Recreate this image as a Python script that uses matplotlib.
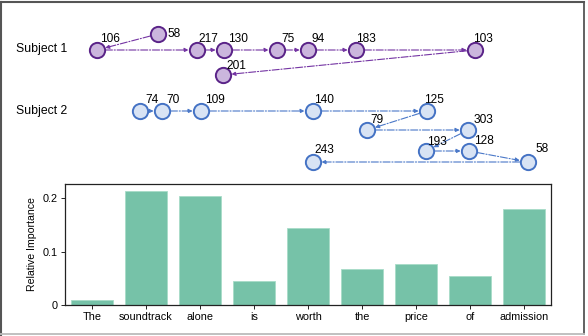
import matplotlib
matplotlib.use("Agg")
import matplotlib.pyplot as plt
from matplotlib.lines import Line2D

plt.rcParams['font.family'] = ['Liberation Sans', 'DejaVu Sans']

# --- datos de la parte superior (fijaciones, en orden) ---
s1_dur = [58, 106, 217, 130, 75, 94, 183, 103, 201]
s1_x = [158, 97, 197, 224, 277, 308, 356, 475, 223]
s1_y = [34, 50, 50, 50, 50, 50, 50, 50, 75]

s2_dur = [74, 70, 109, 140, 125, 79, 303, 193, 128, 58, 243]
s2_x = [140, 162, 201, 313, 427, 367, 468, 426, 469, 528, 313]
s2_y = [111, 111, 111, 111, 111, 130, 130, 151, 151, 162, 162]

# desplazamiento de las etiquetas (px)
s1_off = [(9, 3), (3, -8), (1, -8), (4, -8), (4, -8), (4, -8), (0, -8), (-2, -8), (3, -6)]
s2_off = [(5, -8), (4, -8), (4, -8), (1, -8), (-3, -8), (3, -7), (6, -7), (1, -6), (5, -7), (7, -10), (1, -9)]

# --- datos de barras ---
palabras = ['The', 'soundtrack', 'alone', 'is', 'worth', 'the', 'price', 'of', 'admission']
importancia = [0.009, 0.214, 0.204, 0.045, 0.144, 0.068, 0.076, 0.054, 0.180]

W, H = 588, 336
fig = plt.figure(figsize=(W / 100, H / 100), dpi=100)

# ejes en pixeles para el recorrido
ax = fig.add_axes([0, 0, 1, 1])
ax.set_xlim(0, W)
ax.set_ylim(H, 0)
ax.axis('off')


def recorrido(xs, ys, durs, offs, edge, fill, line):
    for i in range(len(xs) - 1):
        ax.annotate('', xy=(xs[i + 1], ys[i + 1]), xytext=(xs[i], ys[i]),
                    arrowprops=dict(arrowstyle='-|>,head_length=0.25,head_width=0.12',
                                    color=line, lw=0.8, linestyle='dashdot',
                                    shrinkA=6, shrinkB=6))
    ax.plot(xs, ys, 'o', ms=11, mfc=fill, mec=edge, mew=1.4, ls='none', zorder=3)
    for x, y, d, (dx, dy) in zip(xs, ys, durs, offs):
        ax.text(x + dx, y + dy, str(d), fontsize=8.6, ha='left', va='baseline', zorder=4)


recorrido(s1_x, s1_y, s1_dur, s1_off, '#5a2388', '#cbb6dd', '#7434a3')
recorrido(s2_x, s2_y, s2_dur, s2_off, '#4472c4', '#d8e3f4', '#4a78c8')

ax.text(16, 49, 'Subject 1', fontsize=8.8, va='center', ha='left')
ax.text(16, 111, 'Subject 2', fontsize=8.8, va='center', ha='left')

# grafica de barras
bx = fig.add_axes([65 / W, (H - 305) / H, (551 - 65) / W, (305 - 184) / H])
bx.bar(range(len(palabras)), importancia, width=0.78, color='#76c2a8', edgecolor='#a8dcc8', lw=0.6)
bx.set_xlim(-0.5, len(palabras) - 0.5)
bx.set_ylim(0, 0.227)
bx.set_yticks([0, 0.1, 0.2])
bx.set_yticklabels(['0', '0.1', '0.2'])
bx.set_xticks(range(len(palabras)))
bx.set_xticklabels(palabras)
bx.tick_params(labelsize=7.8, length=3, width=0.6, pad=2)
bx.set_ylabel('Relative Importance', fontsize=7.6, labelpad=4)
for s in bx.spines.values():
    s.set_linewidth(0.9)
    s.set_color('#222222')

# marco exterior
fig.add_artist(Line2D([1.5 / W, 1.5 / W], [0, 1 - 2 / H], transform=fig.transFigure, color='#555555', lw=1.5))
fig.add_artist(Line2D([1.5 / W, 584 / W], [1 - 2 / H, 1 - 2 / H], transform=fig.transFigure, color='#555555', lw=1.5))
fig.add_artist(Line2D([584 / W, 584 / W], [1 - 2 / H, 2 / H], transform=fig.transFigure, color='#555555', lw=1.3))
fig.add_artist(Line2D([0, 584 / W], [2 / H, 2 / H], transform=fig.transFigure, color='#bbbbbb', lw=1.3))

fig.savefig('out.png', dpi=100)
